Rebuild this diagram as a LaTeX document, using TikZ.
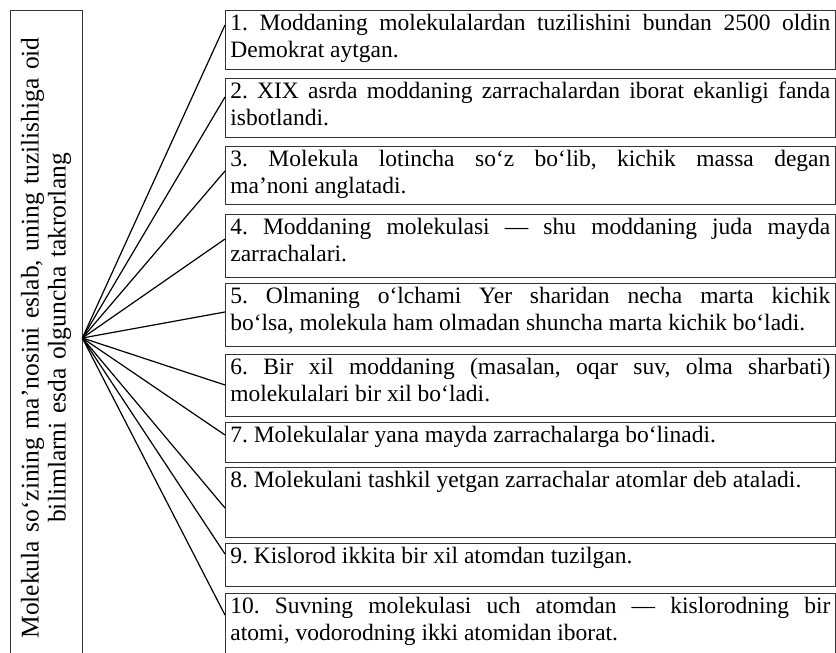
\documentclass[tikz,border=0pt]{standalone}
\usepackage{fontspec}
\setmainfont{Liberation Serif}

\begin{document}
\frenchspacing
\begin{tikzpicture}[x=1pt, y=-1pt,
	every node/.style = {font=\fontsize{23.5}{27}\selectfont},
	fact/.style = {draw=black!80, line width=0.7pt, anchor=north west, text width=600pt,
		inner xsep=5pt, inner ysep=4pt, align=justify, text height=16pt},
	topic/.style = {draw=black!80, line width=0.7pt, rotate=90, minimum width=656pt,
		minimum height=72pt, text width=630pt, align=center, font=\fontsize{25.5}{27}\selectfont},
	link/.style = {line width=1.2pt}]
	
	\clip (0,0) rectangle (836,653);
	
	\node[topic] (topic) at (46,338) {Molekula so‘zining ma’nosini eslab, uning tuzilishiga oid\\
		bilimlarni esda olguncha takrorlang};
	
	\node[fact, text depth=35pt] (f1) at (225,10) {1. Moddaning molekulalardan tuzilishini bundan 2500 oldin\linebreak Demokrat aytgan.};
	\node[fact, text depth=35pt] (f2) at (225,78) {2. XIX asrda moddaning zarrachalardan iborat ekanligi fanda\linebreak isbotlandi.};
	\node[fact, text depth=34pt] (f3) at (225,146) {3. Molekula lotincha so‘z bo‘lib, kichik massa degan\linebreak ma’noni anglatadi.};
	\node[fact, text depth=39pt] (f4) at (225,214) {4. Moddaning molekulasi — shu moddaning juda mayda\linebreak zarrachalari.};
	\node[fact, text depth=39pt] (f5) at (225,283) {5. Olmaning o‘lchami Yer sharidan necha marta kichik\linebreak bo‘lsa, molekula ham olmadan shuncha marta kichik bo‘ladi.};
	\node[fact, text depth=38pt] (f6) at (225,354) {6. Bir xil moddaning (masalan, oqar suv, olma sharbati)\linebreak molekulalari bir xil bo‘ladi.};
	\node[fact, text depth=16pt] (f7) at (225,422) {7. Molekulalar yana mayda zarrachalarga bo‘linadi.};
	\node[fact, text depth=46pt] (f8) at (225,467) {8. Molekulani tashkil yetgan zarrachalar atomlar deb ataladi.};
	\node[fact, text depth=19pt] (f9) at (225,543) {9. Kislorod ikkita bir xil atomdan tuzilgan.};
	\node[fact, text depth=46pt] (f10) at (225,593) {10. Suvning molekulasi uch atomdan — kislorodning bir\linebreak atomi, vodorodning ikki atomidan iborat.};
	
	\foreach \i/\yy in {1/25, 2/97, 3/171, 4/239, 5/312, 6/385, 7/435, 8/508, 9/554, 10/615}
		\draw[link] (topic.south) -- (f\i.west |- 0,\yy);
\end{tikzpicture}
\end{document}
